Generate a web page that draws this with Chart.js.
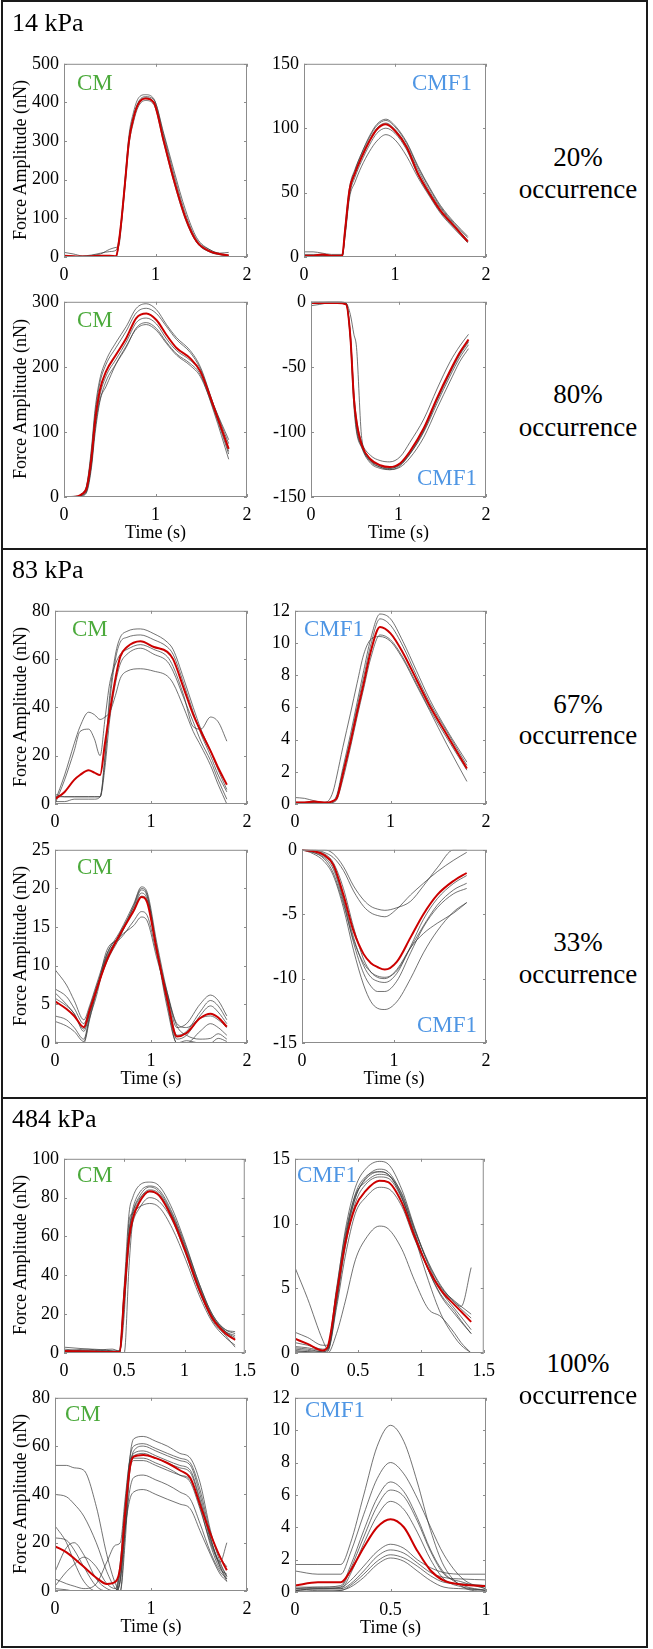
<!DOCTYPE html>
<html>
<head>
<meta charset="utf-8">
<script src="https://cdn.jsdelivr.net/npm/chart.js@4.4.0/dist/chart.umd.min.js"></script>
<style>
    html, body { margin: 0; padding: 0; background: #fff; }
    #fig { position: relative; width: 653px; height: 1649px; overflow: hidden; color: #000; }
    #fig canvas { position: absolute; }
    .txt { position: absolute; white-space: nowrap; line-height: 1;
           font-family: 'Liberation Serif', 'Times New Roman', serif; }
    .rule { position: absolute; background: #1a1a1a; }
</style>
</head>
<body>
<div id="fig"></div>
<script>
// ---- tick labels ----
const xTicks2 = [0, 1, 2];
const xTicks15 = [0, 0.5, 1, 1.5];
const xTicks1 = [0, 0.5, 1];
const yTicks14aCM = [0, 100, 200, 300, 400, 500];
const yTicks14aCMF1 = [0, 50, 100, 150];
const yTicks14bCM = [0, 100, 200, 300];
const yTicks14bCMF1 = [-150, -100, -50, 0];
const yTicks83aCM = [0, 20, 40, 60, 80];
const yTicks83aCMF1 = [0, 2, 4, 6, 8, 10, 12];
const yTicks83bCM = [0, 5, 10, 15, 20, 25];
const yTicks83bCMF1 = [-15, -10, -5, 0];
const yTicks484aCM = [0, 20, 40, 60, 80, 100];
const yTicks484aCMF1 = [0, 5, 10, 15];
const yTicks484bCM = [0, 20, 40, 60, 80];
const yTicks484bCMF1 = [0, 2, 4, 6, 8, 10, 12];

// ---- 14 kPa, 20% occurrence ----
const time14aCM = [0, 0.1, 0.2, 0.3, 0.4, 0.5, 0.57, 0.6, 0.63, 0.67, 0.71, 0.76, 0.81, 0.89, 0.98, 1.09, 1.2, 1.33, 1.45, 1.6, 1.7, 1.8];
const mean14aCM = [3, 2, 1, 2, 3, 3, 2, 40, 100, 200, 300, 360, 395, 410, 400, 300, 200, 100, 40, 14, 8, 4];
const trials14aCM = [
    [12, 8, 3, 5, 10, 14, 18, 45, 105, 210, 315, 375, 410, 420, 410, 315, 215, 110, 45, 18, 10, 12],
    [2, 1, 1, 4, 8, 20, 25, 30, 90, 190, 290, 350, 388, 405, 395, 295, 195, 95, 38, 13, 7, 3],
    [4, 2, 1, 1, 2, 2, 2, 35, 95, 195, 298, 362, 400, 415, 408, 320, 225, 120, 50, 18, 9, 5],
    [1, 1, 0, 1, 1, 2, 1, 40, 100, 205, 305, 365, 398, 412, 402, 305, 205, 100, 38, 12, 6, 2]
];
const time14aCMF1 = [0, 0.1, 0.2, 0.3, 0.42, 0.45, 0.5, 0.56, 0.63, 0.72, 0.8, 0.9, 1.0, 1.13, 1.25, 1.38, 1.5, 1.65, 1.8];
const mean14aCMF1 = [1, 1, 2, 1, 1, 20, 52, 65, 77, 90, 99, 103, 98, 85, 65, 49, 36, 24, 12];
const trials14aCMF1 = [
    [4, 4, 3, 2, 2, 22, 54, 68, 80, 93, 102, 106, 101, 88, 70, 53, 39, 26, 15],
    [0, 0, 1, 1, 1, 18, 50, 65, 78, 91, 100, 104, 99, 86, 68, 51, 38, 25, 13],
    [2, 2, 2, 1, 1, 17, 48, 62, 74, 87, 96, 100, 96, 83, 64, 48, 35, 23, 12],
    [1, 1, 1, 1, 1, 15, 46, 58, 70, 82, 90, 95, 91, 78, 62, 47, 34, 22, 11],
    [1, 1, 1, 0, 0, 20, 52, 67, 80, 94, 103, 107, 102, 89, 71, 54, 40, 27, 16]
];

// ---- 14 kPa, 80% occurrence ----
const time14bCM = [0, 0.1, 0.2, 0.25, 0.3, 0.34, 0.39, 0.46, 0.57, 0.68, 0.79, 0.9, 1.01, 1.12, 1.23, 1.38, 1.49, 1.64, 1.8];
const mean14bCM = [0, 0, 5, 15, 60, 117, 163, 193, 219, 244, 275, 282, 272, 249, 229, 213, 193, 137, 74];
const trials14bCM = [
    [0, 0, 6, 20, 75, 135, 180, 210, 238, 262, 290, 297, 288, 265, 245, 225, 200, 140, 82],
    [0, 0, 4, 18, 70, 128, 174, 204, 230, 255, 283, 290, 282, 262, 242, 222, 197, 140, 88],
    [0, 0, 3, 12, 52, 110, 155, 186, 212, 238, 268, 275, 266, 243, 225, 210, 192, 136, 70],
    [0, 0, 2, 8, 45, 98, 145, 178, 205, 230, 260, 268, 259, 238, 220, 205, 188, 130, 58],
    [0, 1, 3, 10, 50, 105, 148, 170, 205, 232, 258, 265, 256, 236, 218, 202, 185, 133, 66]
];
const time14bCMF1 = [0, 0.1, 0.2, 0.3, 0.4, 0.45, 0.49, 0.52, 0.58, 0.68, 0.79, 0.9, 1.02, 1.13, 1.29, 1.44, 1.59, 1.7, 1.8];
const mean14bCMF1 = [-1, -1, -1, -1, -2, -27, -74, -92, -110, -121, -125.6, -127, -124, -115, -97, -74, -53, -39, -29];
const trials14bCMF1 = [
    [0, 0, 0, 0, -1, -10, -25, -35, -105, -122, -127, -128, -125, -117, -100, -78, -57, -43, -33],
    [-3, -2, -1, -1, -2, -30, -80, -100, -112, -122, -126, -128, -125, -116, -98, -75, -54, -40, -30],
    [0, 0, 0, 0, -1, -25, -70, -90, -108, -118, -122, -123, -119, -108, -90, -67, -46, -34, -25],
    [0, 0, 0, 0, -1, -26, -72, -95, -112, -124, -128, -129, -127, -120, -104, -82, -61, -46, -36],
    [-1, -1, 0, 0, -1, -28, -76, -98, -111, -123, -127, -129, -126, -117, -99, -76, -55, -41, -31]
];

// ---- 83 kPa, 67% occurrence ----
const time83aCM = [0, 0.1, 0.2, 0.26, 0.35, 0.41, 0.47, 0.52, 0.57, 0.63, 0.68, 0.75, 0.89, 1.03, 1.17, 1.23, 1.34, 1.44, 1.52, 1.62, 1.7, 1.79];
const mean83aCM = [2, 5, 10, 12, 14, 13, 12, 25, 38, 52, 61, 65, 67.4, 65, 63, 60, 48, 37, 30, 22, 15, 8];
const trials83aCM = [
    [4, 3, 3, 3, 3, 3, 3, 20, 45, 62, 69, 71.5, 72.5, 70.5, 67, 64, 52, 40, 31, 22, 14, 6],
    [1, 1, 2, 2, 2, 2, 3, 18, 42, 60, 67, 69, 70, 68, 65, 62, 50, 38, 29, 20, 12, 5],
    [3, 3, 3, 3, 3, 3, 3, 15, 35, 50, 58, 62, 64.5, 62, 59, 55, 44, 34, 26, 18, 10, 2],
    [1, 12, 25, 32, 38, 37, 35, 36, 38, 45, 52, 55, 56, 55, 53, 50, 40, 30, 24, 16, 8, 0],
    [0, 10, 22, 30, 31, 27, 20, 35, 50, 58, 62, 64, 66, 64, 61, 57, 45, 32, 31, 36, 34, 26]
];
const time83aCMF1 = [0, 0.1, 0.2, 0.3, 0.35, 0.4, 0.44, 0.5, 0.58, 0.65, 0.72, 0.79, 0.89, 1.0, 1.13, 1.27, 1.41, 1.59, 1.8];
const mean83aCMF1 = [0.1, 0.1, 0.15, 0.1, 0.1, 0.2, 0.4, 1.8, 3.8, 5.7, 7.5, 9.4, 11.0, 10.6, 9.4, 7.75, 6.1, 4.3, 2.2];
const trials83aCMF1 = [
    [0.1, 0.1, 0.1, 0.1, 0.1, 0.2, 0.6, 2.2, 4.3, 6.3, 8.3, 10.2, 11.8, 11.5, 10.1, 8.3, 6.5, 4.6, 2.6],
    [0.1, 0.1, 0.1, 0.1, 0.0, 0.1, 0.5, 2.0, 4.0, 6.0, 7.9, 9.8, 11.5, 11.1, 9.8, 8.0, 6.3, 4.5, 2.4],
    [0.4, 0.35, 0.2, 0.1, 0.2, 0.8, 1.8, 3.5, 5.6, 7.5, 9.3, 10.2, 10.4, 10.1, 9.0, 7.4, 5.8, 3.7, 1.4],
    [0.1, 0.0, 0.0, 0.0, 0.0, 0.1, 0.3, 1.5, 3.5, 5.4, 7.2, 9.0, 10.5, 10.2, 9.1, 7.5, 5.9, 4.1, 2.1]
];

// ---- 83 kPa, 33% occurrence ----
const time83bCM = [0, 0.12, 0.2, 0.3, 0.36, 0.43, 0.54, 0.68, 0.82, 0.9, 0.96, 1.06, 1.17, 1.27, 1.37, 1.51, 1.62, 1.7, 1.79];
const mean83bCM = [5.4, 4.4, 3.5, 2.05, 4.2, 6.8, 10.7, 14.1, 17.1, 18.9, 18.2, 12, 5.6, 0.85, 1.3, 3.2, 3.8, 3.3, 2.1];
const trials83bCM = [
    [9.5, 7.5, 5.5, 3.0, 4.8, 7.5, 11.5, 14.5, 18, 20.2, 19.5, 13, 6.5, 2.0, 2.5, 5.0, 6.2, 5.5, 3.5],
    [7.0, 6.0, 4.5, 2.5, 4.5, 7.2, 11.0, 14.3, 17.6, 19.8, 19.0, 12.5, 6.0, 1.0, 1.5, 4.0, 5.5, 4.8, 3.0],
    [6.5, 5.0, 3.8, 1.8, 4.0, 6.8, 11.2, 14.0, 17.3, 19.4, 18.6, 12.2, 5.5, 0.5, 1.0, 3.5, 4.8, 4.0, 2.5],
    [3.5, 3.0, 2.0, 0.5, 3.5, 6.5, 12.0, 13.5, 15.8, 17.0, 16.5, 11.5, 6.5, 2.5, 2.0, 3.2, 3.5, 3.0, 2.0],
    [2.8, 2.2, 1.5, 0.2, 3.2, 6.0, 11.5, 13.8, 15.2, 16.3, 15.8, 11.0, 6.2, 2.2, 1.0, 0.5, 0.6, 1.2, 0.5],
    [0.1, 0.0, 0.0, 0.0, 3.0, 6.6, 10.5, 13.8, 17.8, 20.0, 19.2, 12.0, 4.5, 0.0, 0.0, 1.5, 2.5, 2.0, 1.0],
    [5.8, 4.8, 3.8, 1.5, 3.8, 7.0, 10.8, 14.2, 17.2, 19.0, 18.4, 12.0, 5.0, 0.0, 0.3, 0.0, 0.0, 0.6, 0.2]
];
const time83bCMF1 = [0, 0.12, 0.24, 0.34, 0.45, 0.56, 0.67, 0.75, 0.82, 0.9, 1.03, 1.18, 1.32, 1.47, 1.65, 1.79];
const mean83bCMF1 = [0, -0.1, -0.4, -1.15, -3.5, -6.3, -8.1, -8.8, -9.1, -9.3, -8.7, -6.8, -5.0, -3.5, -2.4, -1.8];
const trials83bCMF1 = [
    [0, -0.3, -0.9, -2.0, -4.5, -7.8, -10.5, -11.8, -12.3, -12.4, -11.8, -10.0, -8.0, -6.3, -4.8, -4.1],
    [0, -0.2, -0.6, -1.5, -4.0, -7.2, -9.6, -10.6, -11.0, -11.0, -10.2, -8.0, -6.0, -4.5, -3.4, -3.0],
    [0, -0.1, -0.5, -1.3, -3.8, -6.8, -9.0, -9.9, -10.2, -10.3, -9.6, -7.5, -5.4, -3.8, -2.6, -2.0],
    [0, 0, -0.2, -0.6, -1.6, -3.2, -4.4, -4.9, -5.1, -5.2, -4.6, -3.5, -2.6, -1.7, -0.8, -0.2],
    [0, 0, 0, -0.3, -1.3, -2.8, -3.9, -4.4, -4.6, -4.7, -4.5, -4.0, -2.8, -1.4, 0, 0],
    [0, -0.2, -0.7, -1.8, -4.2, -7.0, -8.8, -9.5, -9.8, -9.9, -9.4, -7.6, -5.9, -4.3, -3.1, -2.6],
    [0, -0.1, -0.3, -1.0, -3.0, -6.0, -8.5, -9.5, -9.9, -10.0, -9.3, -7.6, -6.5, -5.7, -4.9, -4.1]
];

// ---- 484 kPa, 100% occurrence ----
const time484aCM = [0, 0.2, 0.4, 0.46, 0.5, 0.54, 0.57, 0.62, 0.71, 0.79, 0.9, 1.01, 1.12, 1.23, 1.34, 1.42];
const mean484aCM = [1, 0.8, 0.5, 0.5, 30, 59, 69, 77, 83.3, 81, 69, 52, 33, 18, 10, 6.8];
const trials484aCM = [
    [2, 1, 1, 1, 35, 72, 80, 86, 88, 86, 74, 56, 36, 20, 12, 10],
    [0, 1, 0, 0, 28, 60, 72, 80, 85.5, 83, 71, 54, 35, 19, 11, 8],
    [3, 2, 1, 1, 20, 68, 72, 75, 77, 75, 64, 48, 30, 16, 8, 4],
    [1, 1, 0, 0, 0, 45, 68, 78, 84, 82, 70, 53, 34, 19, 11, 7],
    [1, 2, 1, 0, 32, 62, 72, 79, 83, 81, 70, 52, 33, 17, 9, 3],
    [0, 0, 0, 0, 25, 56, 67, 74, 80, 78, 68, 51, 32, 18, 11, 9],
    [1, 1, 2, 1, 30, 63, 74, 82, 86, 84, 72, 55, 36, 20, 12, 11]
];
const time484aCMF1 = [0, 0.1, 0.22, 0.26, 0.33, 0.4, 0.48, 0.56, 0.67, 0.74, 0.85, 0.95, 1.06, 1.16, 1.27, 1.32, 1.4];
const mean484aCMF1 = [1.1, 0.7, 0.2, 0.5, 4.5, 8.5, 11.3, 12.5, 13.3, 13.2, 11.6, 9.0, 6.5, 4.85, 3.7, 3.2, 2.4];
const trials484aCMF1 = [
    [0.5, 0.4, 0.2, 0.4, 4.8, 9.5, 12.8, 14.2, 14.8, 14.6, 12.6, 9.7, 6.8, 4.8, 3.4, 2.8, 1.8],
    [0.3, 0.2, 0.1, 0.3, 4.2, 8.8, 12.0, 13.5, 14.2, 14.0, 12.2, 9.5, 6.9, 5.1, 3.9, 3.4, 2.7],
    [1.6, 1.2, 0.6, 0.6, 5.0, 9.2, 12.2, 13.2, 13.8, 13.7, 12.0, 9.2, 6.4, 4.5, 3.2, 2.5, 1.5],
    [0.2, 0.1, 0.0, 0.1, 3.5, 7.5, 10.8, 12.0, 12.8, 12.7, 11.3, 8.8, 6.5, 5.0, 4.0, 3.6, 3.0],
    [0.1, 0.1, 0.0, 0.0, 1.5, 4.0, 7.2, 8.8, 9.8, 9.6, 8.0, 5.6, 3.4, 2.8, 1.5, 0.8, 0.0],
    [6.6, 4.2, 1.0, 0.3, 3.8, 8.2, 11.6, 13.0, 13.6, 13.5, 11.9, 9.3, 6.4, 4.4, 3.0, 2.4, 1.5],
    [0.8, 0.6, 0.3, 0.4, 4.4, 8.9, 12.3, 13.6, 14.0, 13.8, 12.3, 9.6, 7.0, 5.2, 3.9, 3.6, 6.6],
    [0.4, 0.3, 0.1, 0.2, 4.0, 8.6, 12.0, 13.4, 14.0, 13.8, 12.0, 9.0, 5.6, 3.0, 1.2, 0.6, 0.0]
];
const time484bCM = [0, 0.12, 0.2, 0.3, 0.43, 0.54, 0.63, 0.68, 0.73, 0.78, 0.82, 0.92, 1.05, 1.17, 1.3, 1.41, 1.51, 1.62, 1.72, 1.79];
const mean484bCM = [18.5, 16, 13.5, 10, 5.5, 2.9, 3.8, 10, 32, 51, 55.6, 56.3, 55, 53, 50, 46.8, 35.9, 23.6, 14, 8.6];
const trials484bCM = [
    [52, 52, 51, 50, 35, 15, 3, 0, 25, 55, 63, 64, 62, 60, 57, 55, 45, 25, 12, 6],
    [40, 39, 36, 31, 20, 8, 1, 0, 20, 50, 58, 60, 58, 56, 54, 52, 40, 22, 10, 4],
    [27, 20, 12, 4, 0, 0, 0, 5, 25, 42, 47, 48, 46, 44, 41, 38, 28, 16, 8, 5],
    [22, 21, 17, 10, 2, 0, 0, 8, 26, 38, 41, 42, 40, 38, 36, 34, 25, 15, 7, 4],
    [8, 18, 20, 15, 5, 1, 0, 10, 33, 52, 57, 58, 56, 54, 52, 50, 38, 22, 12, 20],
    [2, 8, 11, 14, 10, 3, 1, 12, 35, 55, 60, 61, 59, 57, 55, 53, 42, 24, 14, 10],
    [5, 3, 2, 1, 3, 12, 19, 20, 38, 54, 56, 57, 55, 53, 51, 49, 37, 21, 11, 6],
    [1, 0.5, 0, 0, 0, 0, 0, 5, 30, 52, 55, 55, 53, 51, 48, 45, 34, 20, 10, 5],
    [0, 0, 0, 0, 0, 0, 0, 4, 28, 50, 54, 54, 52, 50, 48, 46, 35, 19, 9, 7]
];
const time484bCMF1 = [0, 0.12, 0.24, 0.29, 0.36, 0.43, 0.5, 0.57, 0.64, 0.71, 0.78, 0.88, 1.0];
const mean484bCMF1 = [0.4, 0.6, 0.6, 1.3, 2.75, 4.0, 4.5, 4.0, 2.55, 1.33, 0.7, 0.45, 0.37];
const trials484bCMF1 = [
    [1.7, 1.7, 1.7, 3.0, 6.0, 9.0, 10.3, 9.3, 6.8, 3.8, 1.6, 0.3, 0.0],
    [1.3, 1.1, 1.1, 2.4, 4.8, 7.0, 8.0, 7.3, 5.8, 4.0, 2.3, 0.8, 0.2],
    [0.3, 0.3, 0.4, 1.6, 3.8, 5.8, 6.8, 6.2, 4.6, 2.6, 1.2, 0.4, 0.1],
    [0.2, 0.2, 0.3, 1.4, 3.4, 5.3, 6.3, 5.9, 4.4, 2.5, 1.1, 0.6, 0.2],
    [0.1, 0.2, 0.2, 1.1, 3.0, 4.7, 5.6, 5.1, 3.7, 2.0, 0.8, 0.3, 0.1],
    [0.2, 0.3, 0.3, 0.7, 1.6, 2.5, 2.95, 2.7, 2.0, 1.5, 1.2, 1.1, 1.1],
    [0.1, 0.2, 0.2, 0.5, 1.3, 2.2, 2.6, 2.4, 1.8, 1.2, 0.9, 0.8, 0.75],
    [0.0, 0.1, 0.1, 0.4, 1.1, 1.9, 2.3, 2.1, 1.6, 1.0, 0.6, 0.5, 0.4],
    [0.1, 0.0, 0.1, 0.3, 0.9, 1.7, 2.1, 1.9, 1.3, 0.7, 0.3, 0.2, 0.1]
];

const GREEN = '#4caa3c';
const BLUE = '#4f96e4';
const SERIF = "'Liberation Serif', 'Times New Roman', serif";
const fig = document.getElementById('fig');

// plot-area boxes [left, top, right, bottom] and label placement
const plots = [
    { box: [64, 62, 247, 257], t: time14aCM, mean: mean14aCM, trials: trials14aCM, xt: xTicks2, yt: yTicks14aCM, name: 'CM', lx: 77, lb: 90, yTitle: true },
    { box: [304, 62, 486, 257], t: time14aCMF1, mean: mean14aCMF1, trials: trials14aCMF1, xt: xTicks2, yt: yTicks14aCMF1, name: 'CMF1', lx: 412, lb: 90 },
    { box: [64, 300, 247, 497], t: time14bCM, mean: mean14bCM, trials: trials14bCM, xt: xTicks2, yt: yTicks14bCM, name: 'CM', lx: 77, lb: 327, yTitle: true, xTitle: true },
    { box: [311, 300, 486, 497], t: time14bCMF1, mean: mean14bCMF1, trials: trials14bCMF1, xt: xTicks2, yt: yTicks14bCMF1, name: 'CMF1', lx: 417, lb: 485, xTitle: true },
    { box: [55, 609, 247, 804], t: time83aCM, mean: mean83aCM, trials: trials83aCM, xt: xTicks2, yt: yTicks83aCM, name: 'CM', lx: 72, lb: 636, yTitle: true },
    { box: [295, 609, 486, 804], t: time83aCMF1, mean: mean83aCMF1, trials: trials83aCMF1, xt: xTicks2, yt: yTicks83aCMF1, name: 'CMF1', lx: 304, lb: 636 },
    { box: [55, 848, 247, 1043], t: time83bCM, mean: mean83bCM, trials: trials83bCM, xt: xTicks2, yt: yTicks83bCM, name: 'CM', lx: 77, lb: 874, yTitle: true, xTitle: true },
    { box: [302, 848, 486, 1043], t: time83bCMF1, mean: mean83bCMF1, trials: trials83bCMF1, xt: xTicks2, yt: yTicks83bCMF1, name: 'CMF1', lx: 417, lb: 1032, xTitle: true },
    { box: [64, 1157, 247, 1353], t: time484aCM, mean: mean484aCM, trials: trials484aCM, xt: xTicks15, yt: yTicks484aCM, name: 'CM', lx: 77, lb: 1182, yTitle: true },
    { box: [295, 1157, 486, 1353], t: time484aCMF1, mean: mean484aCMF1, trials: trials484aCMF1, xt: xTicks15, yt: yTicks484aCMF1, name: 'CMF1', lx: 297, lb: 1182 },
    { box: [55, 1396, 247, 1591], t: time484bCM, mean: mean484bCM, trials: trials484bCM, xt: xTicks2, yt: yTicks484bCM, name: 'CM', lx: 65, lb: 1421, yTitle: true, xTitle: true },
    { box: [295, 1396, 486, 1592], t: time484bCMF1, mean: mean484bCMF1, trials: trials484bCMF1, xt: xTicks1, yt: yTicks484bCMF1, name: 'CMF1', lx: 305, lb: 1417, xTitle: true }
];

// text placed by its baseline (line-height 1 in Liberation Serif puts baseline at ~0.8375em)
function addText(str, x, base, size, opts) {
    opts = opts || {};
    const d = document.createElement('div');
    d.className = 'txt';
    d.textContent = str;
    d.style.fontSize = size + 'px';
    d.style.left = x + 'px';
    d.style.top = (base - 0.8375 * size) + 'px';
    if (opts.color) d.style.color = opts.color;
    if (opts.center) d.style.transform = 'translateX(-50%)';
    fig.appendChild(d);
    return d;
}

function addRule(l, t, w, h) {
    const d = document.createElement('div');
    d.className = 'rule';
    Object.assign(d.style, { left: l + 'px', top: t + 'px', width: w + 'px', height: h + 'px' });
    fig.appendChild(d);
}

// MATLAB-like box with inward ticks on all four sides
const boxPlugin = {
    id: 'matlabBox',
    afterDraw(chart) {
        const { ctx, chartArea: a, scales: { x, y } } = chart;
        ctx.save();
        ctx.strokeStyle = '#8c8c8c';
        ctx.lineWidth = 1;
        ctx.strokeRect(a.left + 0.5, a.top + 0.5, a.right - a.left - 1, a.bottom - a.top - 1);
        ctx.beginPath();
        x.ticks.forEach(tk => {
            const px = Math.round(x.getPixelForValue(tk.value)) + 0.5;
            ctx.moveTo(px, a.bottom); ctx.lineTo(px, a.bottom - 3);
            ctx.moveTo(px, a.top); ctx.lineTo(px, a.top + 3);
        });
        y.ticks.forEach(tk => {
            const py = Math.round(y.getPixelForValue(tk.value)) + 0.5;
            ctx.moveTo(a.left, py); ctx.lineTo(a.left + 3, py);
            ctx.moveTo(a.right, py); ctx.lineTo(a.right - 3, py);
        });
        ctx.stroke();
        ctx.restore();
    }
};

Chart.defaults.font.family = SERIF;
Chart.defaults.font.size = 18;
Chart.defaults.color = '#000';

function addPlot(p) {
    const padL = 60, padT = 14, padR = 16, padB = 34;
    const [l, t, r, b] = p.box;
    const cv = document.createElement('canvas');
    cv.width = (r - l) + padL + padR;
    cv.height = (b - t) + padT + padB;
    cv.style.left = (l - padL) + 'px';
    cv.style.top = (t - padT) + 'px';
    fig.appendChild(cv);

    const toPts = arr => p.t.map((x, i) => ({ x: x, y: arr[i] }));
    const base = { showLine: true, pointRadius: 0, fill: false, cubicInterpolationMode: 'monotone' };
    const datasets = [Object.assign({ data: toPts(p.mean), borderColor: '#cc0000', borderWidth: 2, order: 0 }, base)]
        .concat(p.trials.map(tr => Object.assign({ data: toPts(tr), borderColor: 'rgba(60,60,60,0.85)', borderWidth: 0.85, order: 1 }, base)));

    new Chart(cv, {
        type: 'scatter',
        data: { datasets: datasets },
        options: {
            responsive: false,
            animation: false,
            devicePixelRatio: 1,
            events: [],
            layout: { padding: { left: 0, top: padT, right: padR, bottom: 0 } },
            plugins: { legend: { display: false }, tooltip: { enabled: false } },
            scales: {
                x: {
                    type: 'linear', position: 'bottom',
                    min: p.xt[0], max: p.xt[p.xt.length - 1],
                    grid: { display: false, drawTicks: false }, border: { display: false },
                    afterBuildTicks: s => { s.ticks = p.xt.map(v => ({ value: v })); },
                    afterFit: s => { s.height = padB; },
                    ticks: { padding: 7, autoSkip: false, maxRotation: 0, callback: v => String(v) }
                },
                y: {
                    type: 'linear', position: 'left',
                    min: p.yt[0], max: p.yt[p.yt.length - 1],
                    grid: { display: false, drawTicks: false }, border: { display: false },
                    afterBuildTicks: s => { s.ticks = p.yt.map(v => ({ value: v })); },
                    afterFit: s => { s.width = padL; },
                    ticks: { padding: 5, autoSkip: false, callback: v => String(v) }
                }
            }
        },
        plugins: [boxPlugin]
    });

    addText(p.name, p.lx, p.lb, 23, { color: p.name === 'CM' ? GREEN : BLUE });
    if (p.yTitle) {
        const d = addText('Force Amplitude (nN)', 20, 0, 18);
        d.style.top = ((t + b) / 2) + 'px';
        d.style.transform = 'translate(-50%, -50%) rotate(-90deg)';
    }
    if (p.xTitle) addText('Time (s)', (l + r) / 2, b + 41, 18, { center: true });
}

plots.forEach(addPlot);

// panel titles and occurrence notes
addText('14 kPa', 12, 32, 26);
addText('83 kPa', 12, 579, 26);
addText('484 kPa', 12, 1128, 26);
const notes = [['20%', 167, 199], ['80%', 404, 437], ['67%', 714, 745], ['33%', 952, 984], ['100%', 1373, 1405]];
notes.forEach(n => {
    addText(n[0], 578, n[1], 27, { center: true });
    addText('occurrence', 578, n[2], 27, { center: true });
});

// frame and panel separators
addRule(1, 0, 647, 2);
addRule(1, 1646, 647, 2);
addRule(1, 0, 2, 1648);
addRule(646, 0, 2, 1648);
addRule(1, 548, 647, 2);
addRule(1, 1097, 647, 2);
</script>
</body>
</html>
